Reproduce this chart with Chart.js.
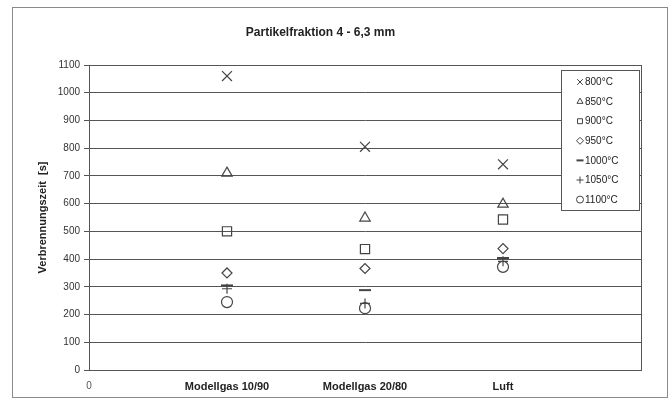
<!DOCTYPE html>
<html>
<head>
<meta charset="utf-8">
<script src="https://cdn.jsdelivr.net/npm/chart.js@4"></script>
<style>
  body { margin: 0; background: #fff; }
  #wrap { width: 671px; height: 400px; }
</style>
</head>
<body>
<div id="wrap"><canvas id="chart" width="671" height="400"></canvas></div>
<script>
// Chart data
const categories = ['Modellgas 10/90', 'Modellgas 20/80', 'Luft'];
const seriesLabels = ['800°C', '850°C', '900°C', '950°C', '1000°C', '1050°C', '1100°C'];
const t800 = [1060, 805, 742];
const t850 = [710, 548, 598];
const t900 = [500, 436, 543];
const t950 = [350, 366, 438];
const t1000 = [305, 288, 404];
const t1050 = [293, 240, 392];
const t1100 = [245, 223, 372];
const yTicks = [0, 100, 200, 300, 400, 500, 600, 700, 800, 900, 1000, 1100];

const seriesValues = [t800, t850, t900, t950, t1000, t1050, t1100];
const markerStyles = ['crossRot', 'triangle', 'rect', 'rectRot', 'line', 'cross', 'circle'];
const markerRadius = [7, 6, 6.5, 5, 6, 5, 5.5];
const markerWidth = [1.2, 1.2, 1.2, 1.2, 2, 1.2, 1.2];
const markColor = '#444';
const font = '"Liberation Sans", Arial, sans-serif';

const datasets = seriesValues.map((vals, i) => ({
    label: seriesLabels[i],
    data: vals.map((v, k) => ({ x: k + 1, y: v })),
    showLine: false,
    pointStyle: markerStyles[i],
    pointRadius: markerRadius[i],
    pointHoverRadius: markerRadius[i],
    pointBorderWidth: markerWidth[i],
    borderColor: markColor,
    backgroundColor: 'rgba(0,0,0,0)'
}));

// white page with grey frame
const framePlugin = {
    id: 'frame',
    beforeDraw(chart) {
        const c = chart.ctx;
        c.save();
        c.fillStyle = '#fff';
        c.fillRect(0, 0, chart.width, chart.height);
        c.strokeStyle = '#8a8a8a';
        c.lineWidth = 1;
        c.strokeRect(12.5, 7.5, 655, 390);
        c.restore();
    },
    beforeDatasetsDraw(chart) {
        const a = chart.chartArea;
        const c = chart.ctx;
        c.save();
        c.strokeStyle = '#555';
        c.lineWidth = 1;
        c.strokeRect(Math.round(a.left) + 0.5, Math.round(a.top) + 0.5,
            Math.round(a.right - a.left), Math.round(a.bottom - a.top));
        c.restore();
    }
};

// legend box inside the plot, top right
const boxLegend = {
    id: 'boxLegend',
    afterDraw(chart) {
        const a = chart.chartArea;
        const c = chart.ctx;
        const w = 78, h = 140;
        const x0 = Math.round(a.right) - 80, y0 = Math.round(a.top) + 5;
        c.save();
        c.fillStyle = '#fff';
        c.strokeStyle = '#555';
        c.lineWidth = 1;
        c.fillRect(x0 + 0.5, y0 + 0.5, w, h);
        c.strokeRect(x0 + 0.5, y0 + 0.5, w, h);
        c.font = '10px ' + font;
        c.textBaseline = 'middle';
        chart.data.datasets.forEach((ds, i) => {
            const yy = y0 + 12 + i * 19.6;
            const mx = x0 + 19;
            c.strokeStyle = markColor;
            c.fillStyle = 'rgba(0,0,0,0)';
            c.lineWidth = i === 4 ? 2 : 1;
            if (Chart.helpers && Chart.helpers.drawPoint) {
                Chart.helpers.drawPoint(c, { pointStyle: ds.pointStyle, radius: ds.pointStyle === 'crossRot' ? 4 : 3.5, borderWidth: c.lineWidth, rotation: 0 }, mx, yy);
            }
            c.fillStyle = '#222';
            c.fillText(ds.label, mx + 5, yy + 0.5);
        });
        c.restore();
    }
};

const ctx = document.getElementById('chart').getContext('2d');
const chart = new Chart(ctx, {
    type: 'scatter',
    data: { datasets: datasets },
    plugins: [framePlugin, boxLegend],
    options: {
        responsive: false,
        animation: false,
        layout: { padding: { left: 0, right: 30, top: 0, bottom: 0 } },
        plugins: {
            legend: { display: false },
            tooltip: { enabled: false },
            title: {
                display: true,
                text: 'Partikelfraktion 4 - 6,3 mm',
                color: '#222',
                font: { family: font, size: 12, weight: 'bold' },
                padding: { top: 25, bottom: 25.6 }
            }
        },
        scales: {
            x: {
                type: 'linear',
                min: 0,
                max: 4,
                afterFit: s => { s.height = 30; },
                afterBuildTicks: s => { s.ticks = [0, 1, 2, 3, 4].map(v => ({ value: v })); },
                grid: { display: false, drawTicks: false },
                border: { display: false },
                ticks: {
                    padding: 10,
                    maxRotation: 0,
                    autoSkip: false,
                    color: ctx => ctx.tick && ctx.tick.value === 0 ? '#555' : '#222',
                    font: ctx => ctx.tick && ctx.tick.value === 0
                        ? { family: font, size: 10 }
                        : { family: font, size: 11, weight: 'bold' },
                    callback: v => v === 0 ? '0' : (categories[v - 1] || '')
                }
            },
            y: {
                min: 0,
                max: 1100,
                afterFit: s => { s.width = 89; },
                afterBuildTicks: s => { s.ticks = yTicks.map(v => ({ value: v })); },
                grid: { color: '#555', lineWidth: 1, drawTicks: true, tickLength: 5, tickColor: '#555' },
                border: { display: true, color: '#555', width: 1 },
                ticks: {
                    padding: 4,
                    color: '#333',
                    font: { family: font, size: 10 },
                    callback: v => String(v)
                },
                title: {
                    display: true,
                    text: 'Verbrennungszeit  [s]',
                    color: '#222',
                    font: { family: font, size: 11, weight: 'bold' },
                    padding: { top: 36, bottom: 0 }
                }
            }
        }
    }
});
</script>
</body>
</html>
